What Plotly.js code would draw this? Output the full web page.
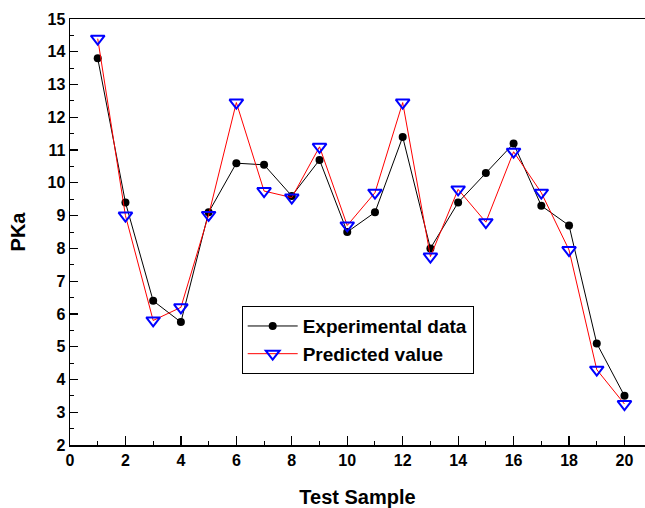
<!DOCTYPE html>
<html>
<head>
<meta charset="utf-8">
<script src="https://cdn.plot.ly/plotly-3.0.1.min.js"></script>
<style>html,body{margin:0;padding:0;background:#fff;}#chart{width:645px;height:508px;}</style>
</head>
<body>
<div id="chart"></div>
<script>
var samples = [1,2,3,4,5,6,7,8,9,10,11,12,13,14,15,16,17,18,19,20];
var experimental = [13.8,9.4,6.4,5.75,9.1,10.6,10.55,9.6,10.7,8.5,9.1,11.4,8.0,9.4,10.3,11.2,9.3,8.7,5.1,3.5];
var predicted = [14.4,9.0,5.8,6.2,9.02,12.45,9.75,9.55,11.1,8.7,9.7,12.45,7.75,9.8,8.8,10.95,9.7,7.95,4.3,3.25];
var xTickVals = [0,2,4,6,8,10,12,14,16,18,20];
var yTickVals = [2,3,4,5,6,7,8,9,10,11,12,13,14,15];

var fam = '"Liberation Sans", Arial, sans-serif';

var traces = [
  {x: samples, y: experimental, name: '<b>Experimental data</b>', type: 'scatter', mode: 'lines+markers',
   line: {color: '#000', width: 1}, marker: {symbol: 'circle', size: 8, color: '#000'}},
  {x: samples, y: predicted, name: '<b>Predicted value</b>', type: 'scatter', mode: 'lines+markers',
   line: {color: '#ff0000', width: 1},
   marker: {symbol: 'triangle-down-open', size: 12, color: '#0000ff', line: {color: '#0000ff', width: 2}}}
];

var layout = {
  width: 645, height: 508,
  margin: {l: 70, r: 0, t: 19, b: 63},
  paper_bgcolor: '#fff', plot_bgcolor: '#fff',
  showlegend: true,
  legend: {x: 0.2986, y: 0.326, xanchor: 'left', yanchor: 'top', bgcolor: '#fff',
           bordercolor: '#000', borderwidth: 1, font: {family: fam, size: 19, color: '#000'},
           tracegroupgap: 0, itemwidth: 50},
  xaxis: {
    range: [0, 20.74], tickvals: xTickVals, ticktext: xTickVals.map(function(v){return '<b>' + v + '</b>';}),
    showgrid: false, zeroline: false, showline: true, linecolor: '#000', linewidth: 1.5,
    mirror: true, ticks: 'inside', ticklen: 9, tickwidth: 1.2, tickcolor: '#000',
    minor: {dtick: 1, tick0: 1, ticks: 'inside', ticklen: 4, tickwidth: 1, tickcolor: '#000', showgrid: false},
    tickfont: {family: fam, size: 16, color: '#000'},
    title: {text: '<b>Test Sample</b>', font: {family: fam, size: 20, color: '#000'}, standoff: 23}
  },
  yaxis: {
    range: [2, 15], tickvals: yTickVals, ticktext: yTickVals.map(function(v){return '<b>' + v + '</b>';}),
    showgrid: false, zeroline: false, showline: true, linecolor: '#000', linewidth: 1.5,
    ticks: 'inside', ticklen: 8, tickwidth: 1.2, tickcolor: '#000',
    minor: {dtick: 0.5, tick0: 0.5, ticks: 'inside', ticklen: 4, tickwidth: 1, tickcolor: '#000', showgrid: false},
    tickfont: {family: fam, size: 16, color: '#000'},
    title: {text: '<b>PKa</b>', font: {family: fam, size: 20, color: '#000'}, standoff: 16}
  }
};

Plotly.newPlot('chart', traces, layout, {displayModeBar: false, staticPlot: true});
</script>
</body>
</html>
